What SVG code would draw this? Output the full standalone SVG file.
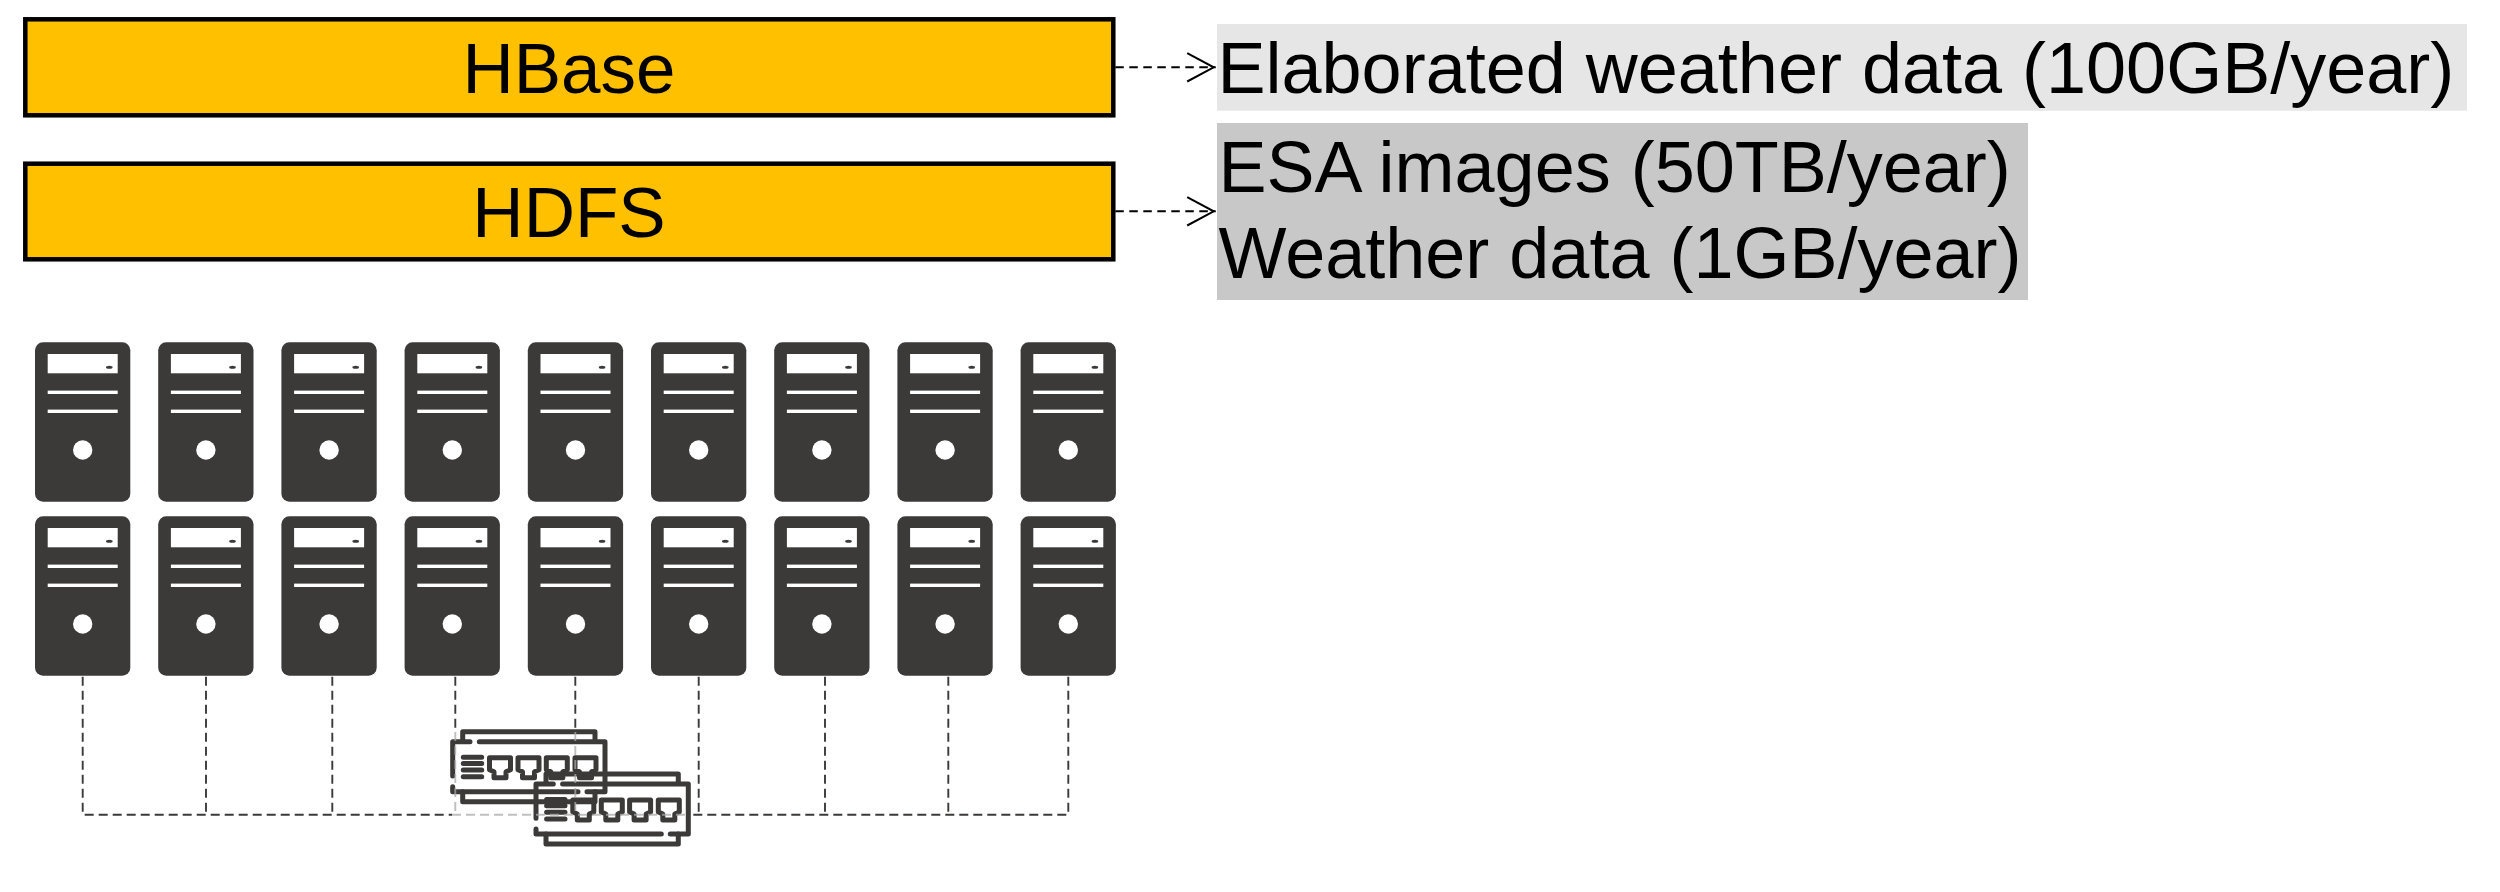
<svg xmlns="http://www.w3.org/2000/svg" xmlns:xlink="http://www.w3.org/1999/xlink" width="2500" height="892" viewBox="0 0 2500 892">
<style>
text{font-family:"Liberation Sans",Arial,sans-serif;font-size:72px;fill:#000}
.bar{fill:#FFC000;stroke:#000;stroke-width:4.500}
.mid{text-anchor:middle;font-size:71px}
.case{fill:#3B3A39}
.cut{fill:#fff}
.led{fill:#3B3A39}
.sw{fill:none;stroke:#3B3A39;stroke-width:5;stroke-linecap:round;stroke-linejoin:round}
.link{fill:none;stroke:#3B3A39;stroke-width:1.900;stroke-dasharray:9 5}
.faded{fill:none;stroke:#aaa;stroke-opacity:.75;stroke-width:1.900;stroke-dasharray:9 5}
.flow{fill:none;stroke:#000;stroke-width:2;stroke-dasharray:8.5 5.5}
.head{fill:none;stroke:#000;stroke-width:2}
</style>
<defs>
<marker id="open" markerUnits="userSpaceOnUse" markerWidth="34" markerHeight="34" refX="31" refY="16" orient="auto" overflow="visible">
<path class="head" d="M2.500 1.800L29 16L2.500 30.200"/>
</marker>
<g id="server">
<rect class="case" width="95.300" height="159.400" rx="8"/>
<rect class="cut" x="12.700" y="11.700" width="70" height="19.300"/>
<ellipse class="led" cx="74.300" cy="25" rx="3.300" ry="1.500"/>
<rect class="cut" x="12.700" y="48.300" width="70" height="3.400"/>
<rect class="cut" x="12.700" y="67.300" width="70" height="3.400"/>
<circle class="cut" cx="47.700" cy="107.700" r="9.700"/>
</g>
<path id="port" d="M0 0H21V12L16.500 14V20H4.500V14L0 12Z"/>
<g id="switch" class="sw">
<path d="M462.700 740V731.700H595V740"/>
<path d="M452.700 776V741.700H470M479.300 741.700H605V791.700H587M578 791.700H452.700V786.700"/>
<path d="M462.700 791.700V801.700H595V791.700"/>
<path d="M463.300 757.300H481.700M463.300 763.500H481.700M463.300 770H481.700M463.300 776.700H481.700"/>
<use href="#port" x="489.500" y="757.700"/>
<use href="#port" x="518" y="757.700"/>
<use href="#port" x="546.300" y="757.700"/>
<use href="#port" x="575" y="757.700"/>
</g>
</defs>
<rect width="2500" height="892" fill="#fff"/>

<g id="hbase"><rect class="bar" x="25.300" y="19.300" width="1088" height="96"/><text class="mid" x="569" y="92.700">HBase</text></g>
<g id="hdfs"><rect class="bar" x="25.300" y="163.700" width="1088" height="95.600"/><text class="mid" x="569" y="236.700">HDFS</text></g>
<g id="label-elaborated"><rect x="1217" y="24" width="1250" height="86.700" fill="#E6E6E6"/><text x="1217.500" y="92.700">Elaborated weather data (100GB/year)</text></g>
<g id="label-storage"><rect x="1217" y="123" width="811" height="177" fill="#C8C8C8"/><text x="1218.500" y="191.700">ESA images (50TB/year)</text><text x="1218.500" y="278.300">Weather data (1GB/year)</text></g>

<g id="server-1-1"><use href="#server" x="35" y="342.300"/></g>
<g id="server-1-2"><use href="#server" x="158.200" y="342.300"/></g>
<g id="server-1-3"><use href="#server" x="281.400" y="342.300"/></g>
<g id="server-1-4"><use href="#server" x="404.600" y="342.300"/></g>
<g id="server-1-5"><use href="#server" x="527.800" y="342.300"/></g>
<g id="server-1-6"><use href="#server" x="651" y="342.300"/></g>
<g id="server-1-7"><use href="#server" x="774.200" y="342.300"/></g>
<g id="server-1-8"><use href="#server" x="897.400" y="342.300"/></g>
<g id="server-1-9"><use href="#server" x="1020.600" y="342.300"/></g>
<g id="server-2-1"><use href="#server" x="35" y="516.300"/></g>
<g id="server-2-2"><use href="#server" x="158.200" y="516.300"/></g>
<g id="server-2-3"><use href="#server" x="281.400" y="516.300"/></g>
<g id="server-2-4"><use href="#server" x="404.600" y="516.300"/></g>
<g id="server-2-5"><use href="#server" x="527.800" y="516.300"/></g>
<g id="server-2-6"><use href="#server" x="651" y="516.300"/></g>
<g id="server-2-7"><use href="#server" x="774.200" y="516.300"/></g>
<g id="server-2-8"><use href="#server" x="897.400" y="516.300"/></g>
<g id="server-2-9"><use href="#server" x="1020.600" y="516.300"/></g>

<g id="switch-1"><use href="#switch"/></g>
<g id="switch-2"><use href="#switch" transform="translate(83.300 42.300)"/></g>

<g id="connectors">
<path class="flow" d="M1115.300 67.300H1215.700" marker-end="url(#open)"/>
<path class="flow" d="M1115.300 211.300H1215.700" marker-end="url(#open)"/>
<path class="link" d="M82.700 676.700V814.700H452"/>
<path class="link" d="M206 676.700V814.700"/>
<path class="link" d="M332.300 676.700V814.700"/>
<path class="link" d="M455.300 676.700V730"/>
<path class="link" d="M575.300 676.700V730"/>
<path class="link" d="M698.700 676.700V814.700"/>
<path class="link" d="M825 676.700V814.700"/>
<path class="link" d="M948.300 676.700V814.700"/>
<path class="link" d="M1068.300 676.700V814.700H690"/>
<path class="faded" d="M455.300 732V814.700"/>
<path class="faded" d="M575.300 732V814.700"/>
<path class="faded" d="M452 814.700H690"/>
</g>
</svg>
